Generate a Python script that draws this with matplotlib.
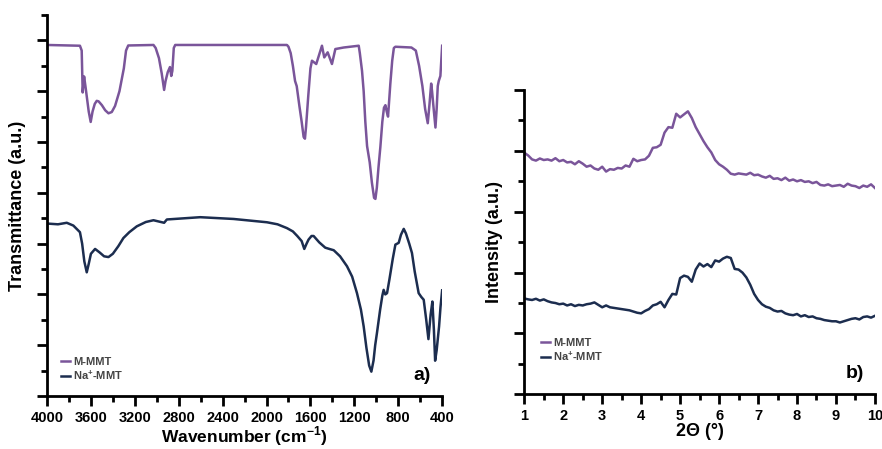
import numpy as np
import matplotlib.pyplot as plt
from matplotlib.ticker import MultipleLocator

plt.rcParams['font.family'] = ['Liberation Sans', 'DejaVu Sans']
plt.rcParams['mathtext.fontset'] = 'custom'
plt.rcParams['mathtext.bf'] = 'Liberation Sans:bold'
plt.rcParams['mathtext.rm'] = 'Liberation Sans:bold'

# FTIR, M-MMT (purple)
ir_wn_m = [4000, 3700, 3684, 3675, 3662, 3650, 3620, 3602, 3585, 3565, 3547, 3530,
           3500, 3470, 3440, 3410, 3380, 3340, 3300, 3280, 3260,
           3030, 3010, 2980, 2955, 2933, 2920, 2900, 2880, 2868, 2858, 2845, 2832,
           1814, 1800, 1780, 1760, 1740, 1725, 1700, 1680, 1662, 1650, 1640, 1620, 1600,
           1586, 1547, 1495, 1474, 1443, 1404, 1373, 1297,
           1160, 1150, 1130, 1115, 1100, 1084, 1060, 1040, 1020, 1008, 995, 980, 963, 945,
           930, 917, 905, 893, 880, 872, 855, 840, 826,
           680, 640, 610, 580, 555, 531, 515, 500, 492, 475, 461, 450, 440, 431, 416, 400]
ir_t_m = [13.82, 13.79, 13.6, 11.95, 12.58, 12.2, 11.2, 10.79, 11.2, 11.5, 11.62, 11.6,
          11.45, 11.25, 11.13, 11.18, 11.42, 12.0, 12.9, 13.6, 13.8,
          13.82, 13.7, 13.3, 12.7, 12.05, 12.4, 12.75, 12.95, 12.6, 12.8, 13.7, 13.82,
          13.82, 13.75, 13.5, 13.0, 12.4, 12.2, 11.4, 10.8, 10.2, 10.13, 10.6, 11.8, 12.9,
          13.2, 13.07, 13.79, 13.33, 13.53, 13.07, 13.66, 13.72,
          13.79, 13.5, 12.8, 12.0, 10.8, 9.84, 9.2, 8.4, 7.8, 7.76, 8.2, 9.0, 9.8, 10.8,
          11.35, 11.45, 11.2, 11.0, 11.8, 12.3, 13.2, 13.7, 13.75,
          13.72, 13.6, 13.0, 12.2, 11.3, 10.74, 11.5, 12.3, 12.0, 11.2, 10.57, 11.3, 12.2, 12.4, 12.6, 13.79]

# FTIR, Na+-MMT (navy)
ir_wn_na = [4000, 3900, 3820, 3760, 3700, 3680, 3660, 3638, 3620, 3600, 3562, 3520,
            3480, 3440, 3400, 3350, 3304, 3250, 3182, 3100, 3030, 2933, 2908, 2604,
            2300, 1996, 1900, 1814, 1760, 1720, 1680, 1656, 1635, 1617, 1590, 1571,
            1520, 1465, 1420, 1388, 1330, 1267, 1220, 1176, 1140, 1115, 1090, 1065,
            1045, 1025, 1010, 994, 965, 945, 933, 918, 902, 880, 850, 826, 796, 775,
            750, 730, 700, 675, 650, 614, 590, 568, 545, 525, 505, 489, 475, 464,
            450, 428, 415, 400]
ir_t_na = [6.79, 6.76, 6.82, 6.71, 6.45, 6.0, 5.3, 4.87, 5.2, 5.6, 5.79, 5.65,
           5.5, 5.47, 5.6, 5.9, 6.22, 6.45, 6.68, 6.85, 6.92, 6.82, 6.95, 7.04,
           6.97, 6.84, 6.76, 6.61, 6.48, 6.3, 6.1, 5.79, 6.0, 6.16, 6.3, 6.3,
           6.05, 5.84, 5.78, 5.74, 5.5, 5.11, 4.7, 4.05, 3.4, 2.74, 1.9, 1.2,
           0.96, 1.4, 2.0, 2.48, 3.4, 3.95, 4.18, 4.0, 4.05, 4.6, 5.4, 5.96, 6.03, 6.35,
           6.58, 6.4, 6.0, 5.63, 4.9, 4.05, 3.9, 3.79, 3.0, 2.24, 3.2, 3.72, 2.6, 1.39,
           1.8, 2.74, 3.5, 4.16]

# XRD, 2theta from 1 to 10 every 0.1
xrd_2t = np.round(np.arange(1.0, 10.01, 0.1), 1)
xrd_m = [7.94, 7.85, 7.72, 7.68, 7.75, 7.70, 7.72, 7.68, 7.76, 7.66,
         7.70, 7.62, 7.64, 7.56, 7.66, 7.58, 7.48, 7.52, 7.42, 7.38,
         7.48, 7.32, 7.40, 7.38, 7.44, 7.42, 7.52, 7.48, 7.74, 7.66,
         7.70, 7.72, 7.84, 8.10, 8.12, 8.20, 8.60, 8.78, 8.76, 9.22,
         9.10, 9.20, 9.30, 9.08, 8.78, 8.55, 8.32, 8.12, 7.95, 7.70,
         7.56, 7.48, 7.38, 7.25, 7.22, 7.26, 7.24, 7.22, 7.28, 7.20,
         7.22, 7.16, 7.12, 7.18, 7.08, 7.10, 7.04, 7.12, 7.02, 7.06,
         7.00, 7.04, 6.98, 7.00, 6.94, 6.98, 6.88, 6.86, 6.90, 6.84,
         6.86, 6.88, 6.82, 6.92, 6.86, 6.84, 6.78, 6.86, 6.82, 6.90, 6.78]
xrd_na = [3.15, 3.12, 3.10, 3.14, 3.08, 3.12, 3.06, 3.02, 3.00, 2.96,
          2.98, 2.92, 2.96, 2.90, 2.94, 2.92, 2.96, 2.98, 3.02, 2.94,
          2.86, 2.92, 2.86, 2.84, 2.82, 2.80, 2.78, 2.76, 2.72, 2.68,
          2.66, 2.74, 2.80, 2.92, 2.96, 3.04, 2.86, 3.10, 3.30, 3.28,
          3.82, 3.90, 3.86, 3.70, 4.10, 4.30, 4.20, 4.28, 4.18, 4.40,
          4.36, 4.46, 4.52, 4.48, 4.12, 4.10, 4.00, 3.84, 3.60, 3.30,
          3.10, 2.96, 2.88, 2.84, 2.76, 2.72, 2.74, 2.66, 2.62, 2.60,
          2.64, 2.56, 2.60, 2.54, 2.56, 2.50, 2.48, 2.44, 2.42, 2.40,
          2.40, 2.36, 2.40, 2.44, 2.48, 2.50, 2.46, 2.54, 2.56, 2.52, 2.58]

purple = '#7a559a'
navy = '#1c2d4f'

fig = plt.figure(figsize=(8.82, 4.49), dpi=100)
ax1 = fig.add_axes([0.0533, 0.118, 0.448, 0.8486])
ax2 = fig.add_axes([0.5944, 0.1218, 0.3976, 0.6777])


def style_axis(ax):
    for s in ['top', 'right']:
        ax.spines[s].set_visible(False)
    for s in ['left', 'bottom']:
        ax.spines[s].set_linewidth(2)
    ax.tick_params(which='major', direction='out', length=7, width=2, labelsize=10.5)
    ax.tick_params(which='minor', direction='out', length=4, width=2)
    ax.tick_params(axis='y', labelleft=False)
    for lab in ax.get_xticklabels():
        lab.set_fontweight('bold')


ax1.plot(ir_wn_m, ir_t_m, color=purple, lw=1.8, label='M-MMT')
ax1.plot(ir_wn_na, ir_t_na, color=navy, lw=1.8, label=r'Na$^{\mathbf{+}}$-MMT')
ax1.set_xlim(4000, 400)
ax1.set_ylim(0, 15)
ax1.set_xticks(np.arange(4000, 399, -400))
ax1.xaxis.set_minor_locator(MultipleLocator(200))
ax1.yaxis.set_major_locator(MultipleLocator(2))
ax1.yaxis.set_minor_locator(MultipleLocator(1))
style_axis(ax1)
ax1.set_xlabel(r'Wavenumber (cm$^{\mathbf{-1}}$)', fontsize=12.5, fontweight='bold', labelpad=0)
ax1.set_ylabel('Transmittance (a.u.)', fontsize=13, fontweight='bold', labelpad=8)
ax1.text(0.95, 0.055, 'a)', transform=ax1.transAxes, fontsize=14, fontweight='bold',
         ha='center', va='center')
leg1 = ax1.legend(loc='lower left', bbox_to_anchor=(0.01, 0.01), frameon=False,
                  handlelength=0.8, handletextpad=0.3, labelspacing=0.15,
                  prop={'size': 8, 'weight': 'bold'})
for t in leg1.get_texts():
    t.set_color('#444444')

ax2.plot(xrd_2t, xrd_m, color=purple, lw=1.8, label='M-MMT')
ax2.plot(xrd_2t, xrd_na, color=navy, lw=1.8, label=r'Na$^{\mathbf{+}}$-MMT')
ax2.set_xlim(1, 10)
ax2.set_ylim(0, 10)
ax2.set_xticks(range(1, 11))
ax2.xaxis.set_minor_locator(MultipleLocator(0.5))
ax2.yaxis.set_major_locator(MultipleLocator(2))
ax2.yaxis.set_minor_locator(MultipleLocator(1))
style_axis(ax2)
ax2.set_xlabel('2Θ (°)', fontsize=13, fontweight='bold', labelpad=0)
ax2.set_ylabel('Intensity (a.u.)', fontsize=13, fontweight='bold', labelpad=8)
ax2.text(0.943, 0.07, 'b)', transform=ax2.transAxes, fontsize=14, fontweight='bold',
         ha='center', va='center')
leg2 = ax2.legend(loc='lower left', bbox_to_anchor=(0.02, 0.07), frameon=False,
                  handlelength=0.8, handletextpad=0.3, labelspacing=0.15,
                  prop={'size': 8, 'weight': 'bold'})
for t in leg2.get_texts():
    t.set_color('#444444')

fig.savefig('out.png', dpi=100)
